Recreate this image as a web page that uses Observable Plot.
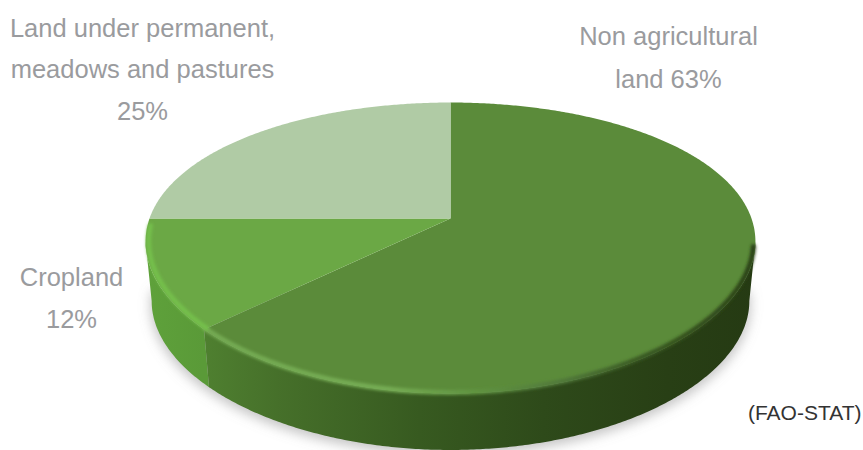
<!DOCTYPE html>
<html>
<head>
<meta charset="utf-8">
<script src="https://cdn.jsdelivr.net/npm/d3@7"></script>
<script src="https://cdn.jsdelivr.net/npm/@observablehq/plot@0.6"></script>
<style>
  html, body { margin: 0; padding: 0; background: #fff; }
  svg { display: block; }
</style>
</head>
<body>
<div id="chart"></div>
<script>
// Data
const categories = ["Non agricultural land", "Cropland", "Land under permanent, meadows and pastures"];
const shares = [63, 12, 25];
const topColors = ["#5b8b3a", "#6ba845", "#b0cba5"];

const labelLines = ["Land under permanent,", "meadows and pastures", "25%", "Non agricultural", "land 63%", "Cropland", "12%"];
const labelCentreX = [142, 142, 142, 668, 668, 71, 71];
const labelBaseY = [36, 77, 119, 44, 87, 285, 327];

// Tilted-disc model: unit circle seen in perspective
const perspY = 0.2027, perspX = 0.16, pxX = 301, pxY = 139.5, cx = 450, cy = 218;
const wallDrop = 60 / pxY, wallShrink = 0.98;
const rad = d => d * Math.PI / 180;
function disc(deg, scale = 1, drop = 0) {
  const u = Math.sin(rad(deg)), v = Math.cos(rad(deg));
  return {X: scale * u / (1 + perspX * v), Y: scale * v / (1 + perspY * v) - drop};
}
const sweep = (a, b) => d3.range(a, b, 0.5).concat(b);
const dataX = px => (px - cx) / pxX;
const dataY = py => (cy - py) / pxY;

// Slices, from shares, clockwise from 12 o'clock
const stops = d3.cumsum(shares).map(s => s / 100 * 360);
const starts = [0, ...stops.slice(0, -1)];
const slices = shares.map((s, i) => [
  {X: 0, Y: 0},
  ...sweep(starts[i], stops[i]).map(d => disc(d)),
  {X: 0, Y: 0}
]);

// Side wall between the widest points of the disc
const widest = Math.acos(-perspX) * 180 / Math.PI;
const wall = (a, b) => [
  ...sweep(a, b).map(d => disc(d)),
  ...sweep(a, b).reverse().map(d => disc(d, wallShrink, wallDrop))
];
const wallMain = wall(widest, stops[0]);
const wallCrop = wall(stops[0], 360 - widest);
const shadow = sweep(widest - 6, 360 - widest + 6).map(d => disc(d, wallShrink + 0.004, wallDrop + 0.03));
const rimMain = sweep(widest + 2, stops[0]).map(d => disc(d, 0.994));
const rimCrop = sweep(stops[0], 267).map(d => disc(d, 0.99));

const defs = () => {
  const svg = d3.create("svg:defs");
  const grad = (id, pts) => {
    const g = svg.append("linearGradient").attr("id", id)
      .attr("gradientUnits", "userSpaceOnUse")
      .attr("x1", 140).attr("x2", 760).attr("y1", 0).attr("y2", 0);
    pts.forEach(([o, c]) => g.append("stop").attr("offset", o).attr("stop-color", c));
  };
  const blur = (id, sd) => svg.append("filter").attr("id", id)
      .attr("filterUnits", "userSpaceOnUse")
      .attr("x", 0).attr("y", 0).attr("width", 863).attr("height", 450)
      .append("feGaussianBlur").attr("stdDeviation", sd);
  grad("wallMainFill", [[0.1, "#4f8030"], [0.22, "#46702a"], [0.45, "#375a20"], [0.65, "#2e4a1a"], [0.85, "#283f15"], [1, "#253a13"]]);
  grad("wallCropFill", [[0, "#5fa23b"], [0.1, "#5a9a38"]]);
  grad("rimMainStroke", [[0.1, "#74aa52"], [0.4, "#76ad54"], [0.55, "#5f9240"], [0.68, "#50783a"], [0.8, "#3a5a22"], [1, "#2a4016"]]);
  blur("soft6", 6);
  blur("soft2", 1.6);
  return svg.node();
};

const labelRows = labelLines.map((t, i) => ({t, X: dataX(labelCentreX[i]), Y: dataY(labelBaseY[i])}));

const plot = Plot.plot({
  width: 863,
  height: 450,
  margin: 0,
  style: {background: "transparent"},
  x: {domain: [dataX(0), dataX(863)], range: [0, 863], axis: null},
  y: {domain: [dataY(0), dataY(450)], range: [0, 450], axis: null},
  marks: [
    defs,
    Plot.line(shadow, {x: "X", y: "Y", fill: "#8c8c8c", stroke: "none", fillOpacity: 0.5}),
    Plot.line(wallCrop, {x: "X", y: "Y", fill: "url(#wallCropFill)", stroke: "none"}),
    Plot.line(wallMain, {x: "X", y: "Y", fill: "url(#wallMainFill)", stroke: "none"}),
    ...slices.map((s, i) => Plot.line(s, {x: "X", y: "Y", fill: topColors[i], stroke: "none", title: () => categories[i]})),
    Plot.line(rimMain, {x: "X", y: "Y", stroke: "url(#rimMainStroke)", strokeWidth: 5}),
    Plot.line(rimCrop, {x: "X", y: "Y", stroke: "#74bf4b", strokeWidth: 5}),
    Plot.text(labelRows, {x: "X", y: "Y", text: "t", fill: "#9a9b9e", fontSize: 25.5, textAnchor: "middle", lineAnchor: "bottom", fontFamily: "Liberation Sans"}),
    Plot.text(["(FAO-STAT)"], {x: () => dataX(861), y: () => dataY(419.5), text: d => d, fill: "#333333", fontSize: 21, textAnchor: "end", lineAnchor: "bottom", fontFamily: "Liberation Sans"})
  ]
});
d3.select(plot).selectAll('g[fill="#8c8c8c"]').attr("filter", "url(#soft6)");
d3.select(plot).selectAll('g[stroke-width="5"]').attr("filter", "url(#soft2)");
document.getElementById("chart").append(plot);
</script>
</body>
</html>
